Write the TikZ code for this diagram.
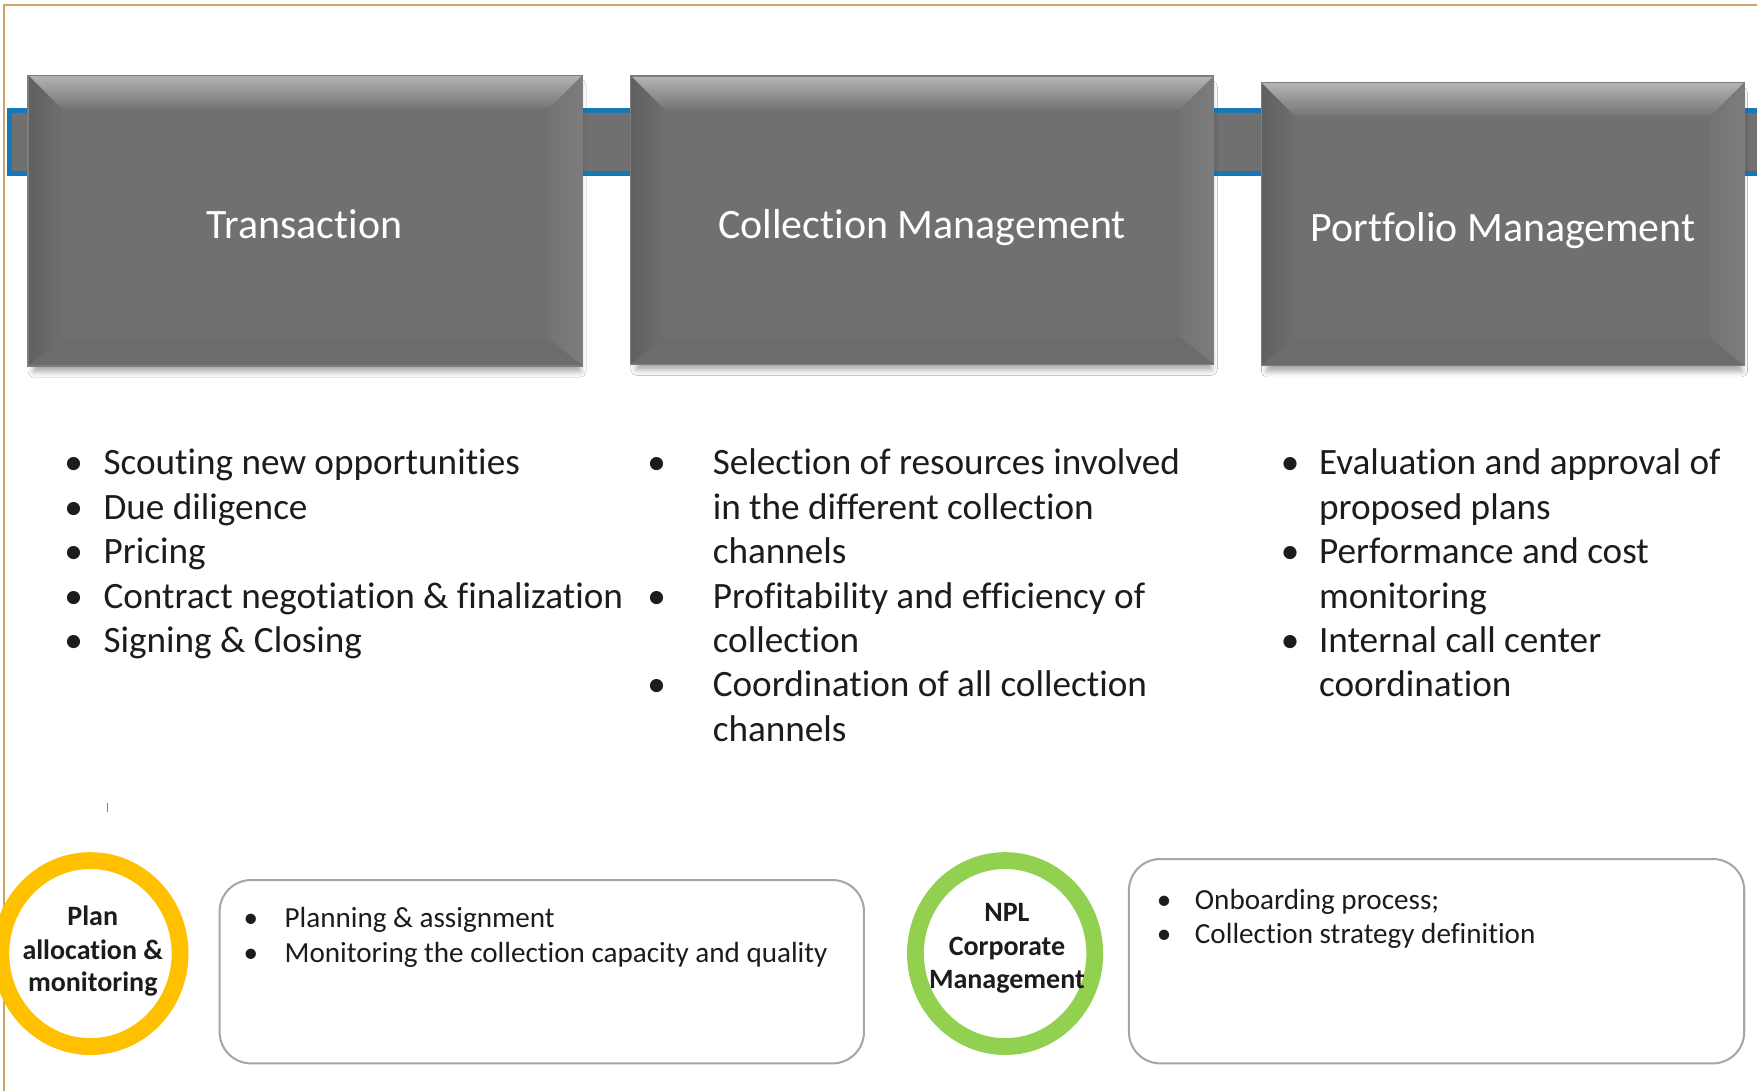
\documentclass[tikz,border=0pt]{standalone}
\usepackage{fontspec}
\setmainfont{Carlito}[Ligatures=NoCommon]
\usetikzlibrary{shapes.geometric,fit,shadows.blur}
\definecolor{tanb}{RGB}{204,166,104}
\definecolor{bandblue}{RGB}{22,120,182}
\definecolor{face}{RGB}{112,112,112}
\definecolor{bvtop}{RGB}{180,180,180}
\definecolor{bvtopin}{RGB}{116,116,116}
\definecolor{bvleft}{RGB}{96,96,96}
\definecolor{bvleftin}{RGB}{110,110,110}
\definecolor{bvright}{RGB}{124,124,124}
\definecolor{bvrightin}{RGB}{116,116,116}
\definecolor{bvbot}{RGB}{108,108,108}
\definecolor{edgegray}{RGB}{125,125,125}
\definecolor{txt}{RGB}{28,28,28}
\definecolor{ringy}{RGB}{255,192,0}
\definecolor{ringg}{RGB}{146,208,80}
\definecolor{boxline}{RGB}{166,166,166}
\tikzset{
 ttl/.style={anchor=base, text=white, font=\fontsize{18.7}{22}\selectfont, inner sep=0pt, yshift=-1.5pt},
 itm/.style={anchor=base west, text=txt, font=\fontsize{16.6}{20}\selectfont, inner sep=0pt, yshift=-1.4pt},
 bul/.style={anchor=base, text=txt, font=\fontsize{16.6}{20}\selectfont, inner sep=0pt, yshift=-1.4pt},
 sitm/.style={anchor=base west, text=txt, font=\fontsize{13}{15.5}\selectfont, inner sep=0pt, yshift=-1pt},
 sbul/.style={anchor=base, text=txt, font=\fontsize{13}{15.5}\selectfont, inner sep=0pt, yshift=-1pt},
 ctxt/.style={anchor=base, text=txt, font=\bfseries\fontsize{12.5}{15}\selectfont, inner sep=0pt, yshift=-1.5pt},
 ringst/.style={ellipse, draw, line width=7.5pt, fill=white, minimum width=80pt, minimum height=83pt, inner sep=0pt},
 rbox/.style={draw=boxline, line width=0.9pt, rounded corners=14pt, inner sep=0pt},
}
\newcommand\bevbox[5]{%
 \path[blur shadow={shadow xshift=0.5pt,shadow yshift=-2.5pt,shadow blur radius=2.5pt,shadow opacity=35}] ({#2+4},{#3+4}) rectangle ({#4-3},#5);
 \fill[face] (#2,#3) rectangle (#4,#5);
 \shade[top color=bvtop, bottom color=bvtopin] (#2,#3) -- (#4,#3) -- ({#4-30},{#3+30}) -- ({#2+30},{#3+30}) -- cycle;
 \shade[left color=bvleft, right color=bvleftin] (#2,#3) -- ({#2+30},{#3+30}) -- ({#2+30},{#5-24}) -- (#2,#5) -- cycle;
 \shade[left color=bvrightin, right color=bvright] (#4,#3) -- (#4,#5) -- ({#4-30},{#5-24}) -- ({#4-30},{#3+30}) -- cycle;
 \fill[bvbot] (#2,#5) -- (#4,#5) -- ({#4-30},{#5-24}) -- ({#2+30},{#5-24}) -- cycle;
 \node[fit={(#2,#3) (#4,#5)}, inner sep=0pt, draw=edgegray, line width=0.5pt] (#1) {};
}
\begin{document}
\begin{tikzpicture}[x=0.5pt,y=-0.5pt]
\useasboundingbox (0,0) rectangle (1568,974);
\fill[white] (0,0) rectangle (1568,974);
% frame
\draw[tanb, line width=0.9pt] (4,974) -- (4,4.5) -- (1568,4.5);
% band
\fill[face] (8.5,99) rectangle (1568,154.5);
\draw[bandblue, line width=2.25pt] (1568,99) -- (8.5,99) -- (8.5,154.5) -- (1568,154.5);
% boxes
\bevbox{b1}{25}{67}{520}{326.6}
\bevbox{b2}{563}{67.8}{1083.3}{325}
\bevbox{b3}{1125.6}{73.8}{1556.6}{326.4}
\node[ttl] (t1) at (271.7,209.7) {Transaction};
\node[ttl] (t2) at (823,209.7) {Collection Management};
\node[ttl] (t3) at (1341.5,212.6) {Portfolio Management};
% column 1
\node[bul] (c1b1) at (65.8,421) {•};
\node[bul] (c1b2) at (65.8,460.5) {•};
\node[bul] (c1b3) at (65.8,500) {•};
\node[bul] (c1b4) at (65.8,540) {•};
\node[bul] (c1b5) at (65.8,579.5) {•};
\node[itm] (c1l1) at (92,421) {Scouting new opportunities};
\node[itm] (c1l2) at (92,460.5) {Due diligence};
\node[itm] (c1l3) at (92,500) {Pricing};
\node[itm] (c1l4) at (92,540) {Contract negotiation \& finalization};
\node[itm] (c1l5) at (92,579.5) {Signing \& Closing};
% column 2
\node[bul] (c2b1) at (586,421) {•};
\node[bul] (c2b2) at (586,540) {•};
\node[bul] (c2b3) at (586,619) {•};
\node[itm] (c2l1) at (635.7,421) {Selection of resources involved};
\node[itm] (c2l2) at (635.7,460.5) {in the different collection};
\node[itm] (c2l3) at (635.7,500) {channels};
\node[itm] (c2l4) at (635.7,540) {Profitability and efficiency of};
\node[itm] (c2l5) at (635.7,579.5) {collection};
\node[itm] (c2l6) at (635.7,619) {Coordination of all collection};
\node[itm] (c2l7) at (635.7,658.5) {channels};
% column 3
\node[bul] (c3b1) at (1151.4,420.5) {•};
\node[bul] (c3b2) at (1151.4,500) {•};
\node[bul] (c3b3) at (1151.4,579.5) {•};
\node[itm] (c3l1) at (1176.8,420.5) {Evaluation and approval of};
\node[itm] (c3l2) at (1176.8,460.5) {proposed plans};
\node[itm] (c3l3) at (1176.8,500) {Performance and cost};
\node[itm] (c3l4) at (1176.8,540) {monitoring};
\node[itm] (c3l5) at (1176.8,579.5) {Internal call center};
\node[itm] (c3l6) at (1176.8,619) {coordination};
% tick
\coordinate (tka) at (95.8,716.8);
\coordinate (tkb) at (95.8,724.5);
\draw[gray, line width=0.6pt] (tka) -- (tkb);
% bottom left
\node[ringst, draw=ringy] (ry) at (80.7,851) {};
\node[ctxt] (ry1) at (82.8,822.6) {Plan};
\node[ctxt] (ry2) at (82.8,853) {allocation \&};
\node[ctxt] (ry3) at (82.8,882) {monitoring};
\node[rbox, fit={(196,785.4) (771,949)}] (ba) {};
\node[sbul] (bab1) at (224,825.5) {•};
\node[sbul] (bab2) at (224,856.8) {•};
\node[sitm] (bal1) at (253.6,825.5) {Planning \& assignment};
\node[sitm] (bal2) at (253.6,856.8) {Monitoring the collection capacity and quality};
% bottom right
\node[ringst, draw=ringg] (rg) at (897,851) {};
\node[ctxt] (rg1) at (898.6,819.5) {NPL};
\node[ctxt] (rg2) at (898.6,850) {Corporate};
\node[ctxt] (rg3) at (898.6,879) {Management};
\node[rbox, fit={(1007.5,766.6) (1556.6,949)}] (bb) {};
\node[sbul] (bbb1) at (1039,809.7) {•};
\node[sbul] (bbb2) at (1039,840.4) {•};
\node[sitm] (bbl1) at (1066,809.7) {Onboarding process;};
\node[sitm] (bbl2) at (1066,840.4) {Collection strategy definition};
\end{tikzpicture}
\end{document}
